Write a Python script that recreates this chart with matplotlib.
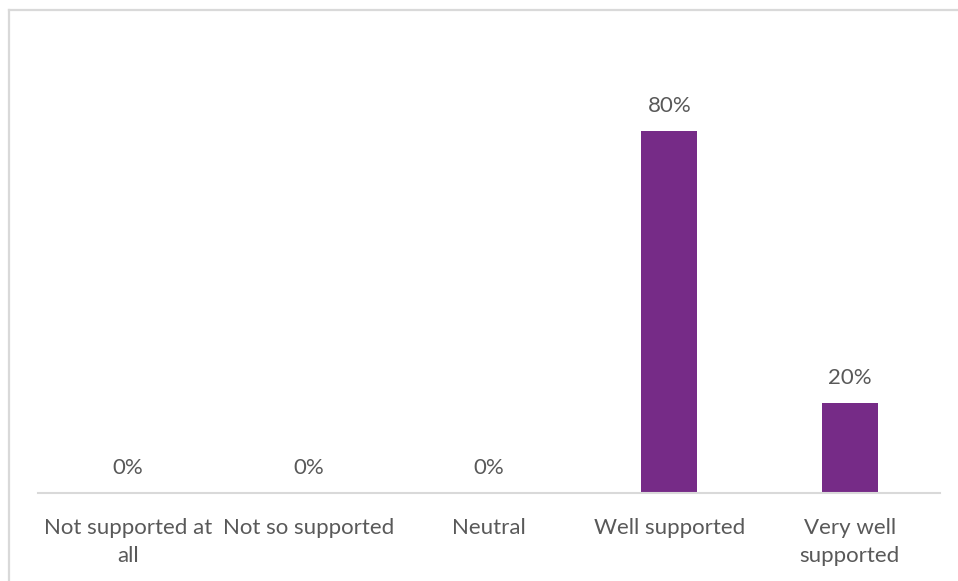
import matplotlib
matplotlib.use('Agg')
import matplotlib.pyplot as plt
from matplotlib.lines import Line2D

categories = ['Not supported at\nall', 'Not so supported', 'Neutral', 'Well supported', 'Very well\nsupported']
values = [0, 0, 0, 80, 20]

plt.rcParams['font.family'] = ['Lato', 'DejaVu Sans']
text_color = '#595959'

W, H = 958, 581
fig = plt.figure(figsize=(W / 100, H / 100), dpi=100)
ax = fig.add_axes([38 / W, (H - 493) / H, (940 - 38) / W, (493 - 40.5) / H])

x = range(len(categories))
ax.bar(x, values, width=0.31, color='#762B87')
for i, v in enumerate(values):
    ax.annotate(f'{v}%', xy=(i, v), xytext=(0, 10.5), textcoords='offset points',
                ha='center', va='bottom', fontsize=16, color=text_color)

ax.set_xlim(-0.5, len(categories) - 0.5)
ax.set_ylim(0, 100)
ax.set_xticks(list(x))
ax.set_xticklabels(categories, fontsize=16, color=text_color, linespacing=1.5)
ax.tick_params(axis='x', length=0, pad=18)
ax.set_yticks([])
for s in ['top', 'right', 'left']:
    ax.spines[s].set_visible(False)
ax.spines['bottom'].set_color('#D9D9D9')
ax.spines['bottom'].set_linewidth(1.5)

# chart frame, only top and left edges show in the crop
fig.add_artist(Line2D([9 / W, 9 / W], [0, (H - 10) / H], color='#D9D9D9', lw=1.6))
fig.add_artist(Line2D([9 / W, 1], [(H - 10) / H, (H - 10) / H], color='#D9D9D9', lw=1.6))

fig.savefig('out.png', dpi=100)
